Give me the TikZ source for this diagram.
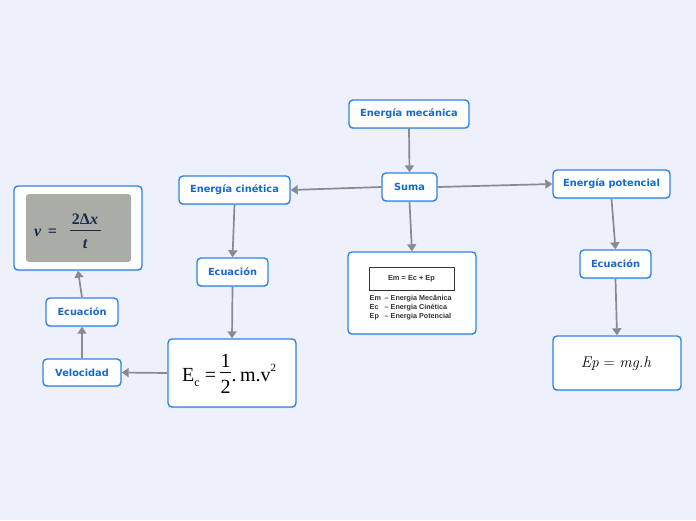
\documentclass[tikz,border=0pt]{standalone}
\usepackage{fontspec}
\setsansfont{DejaVu Sans}
\newfontfamily\tms{Liberation Serif}
\newfontfamily\ari{Liberation Sans}
\usetikzlibrary{arrows.meta,shadows}
\definecolor{bg}{HTML}{EEF1FB}
\definecolor{bblue}{HTML}{2F84E3}
\definecolor{tblue}{HTML}{1668D0}
\definecolor{lgray}{HTML}{858A93}
\definecolor{imggray}{HTML}{A9ADA6}
\definecolor{fnavy}{HTML}{1B2A48}
\tikzset{
  box/.style={draw=bblue, line width=1.4pt, rounded corners=4pt, fill=white,
    text=tblue, font=\sffamily\bfseries\fontsize{9.8}{11}\selectfont, inner sep=0pt,
    drop shadow={shadow xshift=0pt, shadow yshift=-1.2pt, opacity=0.25, fill=black!60}},
  conn/.style={draw=lgray, line width=1.7pt, -{Triangle[width=9pt,length=7pt]}},
  vf/.style={inner sep=0pt, text=fnavy, font=\tms\bfseries\fontsize{16}{18}\selectfont},
  ef/.style={inner sep=0pt, text=black, font=\tms\fontsize{20}{22}\selectfont},
}
\begin{document}
\begin{tikzpicture}[x=1pt,y=-1pt]
\fill[bg] (0,0) rectangle (696,520);
\useasboundingbox (0,0) rectangle (696,520);
% nodes
\node[box, minimum width=120pt, minimum height=28pt] (mec) at (409,114) {Energía mecánica};
\node[box, minimum width=55pt, minimum height=28pt] (suma) at (409.5,187) {Suma};
\node[box, minimum width=111pt, minimum height=28pt] (cin) at (234.5,190) {Energía cinética};
\node[box, minimum width=117pt, minimum height=28pt] (pot) at (611.5,184) {Energía potencial};
\node[box, minimum width=71pt, minimum height=28pt] (ecc) at (232.5,272) {Ecuación};
\node[box, minimum width=128pt, minimum height=68pt] (ecbox) at (232,373) {};
\node[box, minimum width=128pt, minimum height=82pt] (embox) at (412,293) {};
\node[box, minimum width=71pt, minimum height=28pt] (ecr) at (615.5,264) {Ecuación};
\node[box, minimum width=128pt, minimum height=54pt] (epbox) at (617,363) {};
\node[box, minimum width=78pt, minimum height=27pt] (vel) at (82,372.5) {Velocidad};
\node[box, minimum width=72pt, minimum height=28pt] (ecl) at (82,312) {Ecuación};
\node[box, minimum width=128pt, minimum height=84pt] (vbox) at (78,228) {};
% v formula
\node[fill=imggray, rounded corners=3pt, minimum width=105pt, minimum height=68pt, inner sep=0pt] (img) at (78.5,228) {};
\node[vf, anchor=base] (vleft) at (45.5,236) {\itshape v\upshape\ \,=};
\node[vf, anchor=base] (vnum) at (85,224.5) {2Δ\itshape x};
\node[vf, anchor=base] (vden) at (85,248) {\itshape t};
\draw[fnavy, line width=1pt] (69.5,230.5) -- (101,230.5);
% Ec formula
\node[ef, anchor=base] (ecE) at (191,381.7) {E\raisebox{-0.5ex}{\fontsize{12}{12}\selectfont c}};
\node[ef, anchor=base] (eceq) at (210.5,381.7) {=};
\node[ef, anchor=base] (ecn) at (225.5,367.5) {1};
\node[ef, anchor=base] (ecd) at (225.5,393.3) {2};
\draw[black, line width=0.9pt] (220,372.3) -- (231,372.3);
\node[ef, anchor=base west] (ecr2) at (231.5,381.7) {.\,m.v\raisebox{1.1ex}{\fontsize{11}{11}\selectfont 2}};
% Ep formula
\node[inner sep=0pt, anchor=base, font=\fontsize{15.5}{17}\selectfont] (epform) at (616,367.5) {\itshape Ep\upshape\ =\ \itshape mg.h};
% Em box contents
\node[draw=black!80, line width=0.8pt, minimum width=85pt, minimum height=23pt, inner sep=0pt,
  font=\ari\bfseries\fontsize{7.4}{8}\selectfont, text=black!80] (emeq) at (411.5,278.5) {Em = Ec + Ep};
\node[anchor=north west, inner sep=0pt, align=left, font=\ari\bfseries\fontsize{7.2}{9}\selectfont, text=black!80] (emleg) at (369.5,295)
  {\makebox[15pt][l]{Em}– Energia Mecânica\\ \makebox[15pt][l]{Ec}– Energia Cinética\\ \makebox[15pt][l]{Ep}– Energia Potencial};
% connectors
\draw[conn] (mec.south) -- (suma.north);
\draw[conn] (suma.west) -- (cin.east);
\draw[conn] (suma.east) -- (pot.west);
\draw[conn] (suma.south) -- (embox.north);
\draw[conn] (cin.south) -- (ecc.north);
\draw[conn] (ecc.south) -- (ecbox.north);
\draw[conn] (ecbox.west) -- (vel.east);
\draw[conn] (vel.north) -- (ecl.south);
\draw[conn] (ecl.north) -- (vbox.south);
\draw[conn] (pot.south) -- (ecr.north);
\draw[conn] (ecr.south) -- (epbox.north);
\end{tikzpicture}
\end{document}
